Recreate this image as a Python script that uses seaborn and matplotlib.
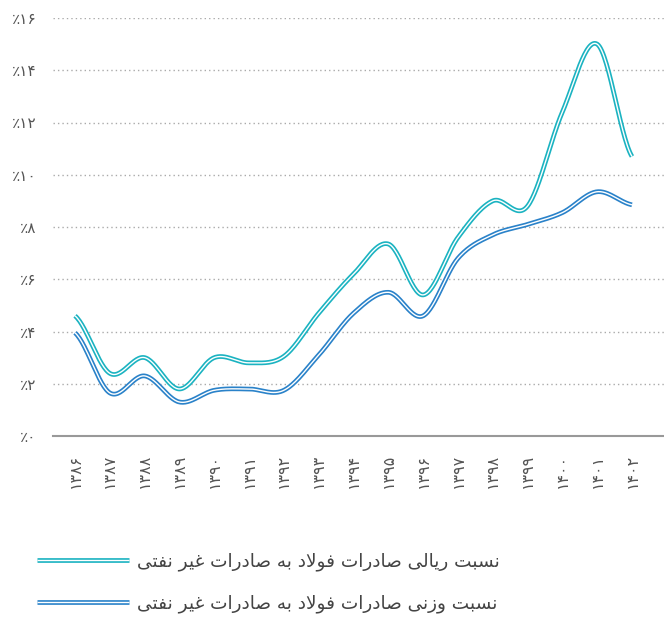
import numpy as np
import pandas as pd
import matplotlib
matplotlib.use("Agg")
import matplotlib.pyplot as plt
from matplotlib.lines import Line2D
from matplotlib.legend_handler import HandlerTuple
import seaborn as sns

# data (percent)
years = [1386, 1387, 1388, 1389, 1390, 1391, 1392, 1393, 1394,
         1395, 1396, 1397, 1398, 1399, 1400, 1401, 1402]
rial_share = [4.6, 2.4, 3.0, 1.8, 3.0, 2.8, 3.05, 4.7, 6.2,
              7.35, 5.4, 7.6, 9.0, 8.8, 12.4, 15.0, 10.7]
weight_share = [3.95, 1.65, 2.3, 1.3, 1.75, 1.8, 1.75, 3.1, 4.7,
                5.5, 4.6, 6.8, 7.7, 8.1, 8.55, 9.35, 8.85]
yticks = [0, 2, 4, 6, 8, 10, 12, 14, 16]
series_names = ["نسبت ریالی صادرات فولاد به صادرات غیر نفتی",
                "نسبت وزنی صادرات فولاد به صادرات غیر نفتی"]
colors = ["#1bb3c1", "#2a82c9"]

FA_DIGITS = str.maketrans("0123456789", "۰۱۲۳۴۵۶۷۸۹")

# presentation forms: isolated, final, initial, medial
FORMS = {
    'ا': ('\uFE8D', '\uFE8E', None, None),
    'ب': ('\uFE8F', '\uFE90', '\uFE91', '\uFE92'),
    'ت': ('\uFE95', '\uFE96', '\uFE97', '\uFE98'),
    'د': ('\uFEA9', '\uFEAA', None, None),
    'ر': ('\uFEAD', '\uFEAE', None, None),
    'ز': ('\uFEAF', '\uFEB0', None, None),
    'س': ('\uFEB1', '\uFEB2', '\uFEB3', '\uFEB4'),
    'ص': ('\uFEB9', '\uFEBA', '\uFEBB', '\uFEBC'),
    'غ': ('\uFECD', '\uFECE', '\uFECF', '\uFED0'),
    'ف': ('\uFED1', '\uFED2', '\uFED3', '\uFED4'),
    'ل': ('\uFEDD', '\uFEDE', '\uFEDF', '\uFEE0'),
    'ن': ('\uFEE5', '\uFEE6', '\uFEE7', '\uFEE8'),
    'ه': ('\uFEE9', '\uFEEA', '\uFEEB', '\uFEEC'),
    'و': ('\uFEED', '\uFEEE', None, None),
    'ی': ('\uFEEF', '\uFEF0', '\uFEF3', '\uFEF4'),
    'ﻻ': ('\uFEFB', '\uFEFC', None, None),
}


def shape_fa(text):
    # matplotlib has no arabic shaping, so join letters by hand and flip to visual order
    chars = list(text.replace('لا', 'ﻻ'))
    out = []
    for i, c in enumerate(chars):
        if c not in FORMS:
            out.append(c)
            continue
        prev = chars[i - 1] if i > 0 else None
        nxt = chars[i + 1] if i + 1 < len(chars) else None
        join_prev = prev in FORMS and FORMS[prev][2] is not None
        join_next = FORMS[c][2] is not None and nxt in FORMS
        iso, fin, ini, med = FORMS[c]
        if join_prev and join_next:
            out.append(med)
        elif join_prev:
            out.append(fin)
        elif join_next:
            out.append(ini)
        else:
            out.append(iso)
    return ''.join(out)[::-1]


def catmull_rom(vals, steps=30):
    p = np.asarray(vals, float)
    p = np.concatenate([[p[0]], p, [p[-1]]])
    xs, ys = [], []
    t = np.linspace(0, 1, steps, endpoint=False)
    for i in range(1, len(p) - 2):
        p0, p1, p2, p3 = p[i - 1:i + 3]
        y = 0.5 * (2 * p1 + (p2 - p0) * t + (2 * p0 - 5 * p1 + 4 * p2 - p3) * t ** 2
                   + (-p0 + 3 * p1 - 3 * p2 + p3) * t ** 3)
        xs.append(i - 1 + t)
        ys.append(y)
    xs.append([len(vals) - 1])
    ys.append([vals[-1]])
    return np.concatenate(xs), np.concatenate(ys)


sns.set_theme(style="white")
plt.rcParams['font.family'] = ['DejaVu Sans']

fig = plt.figure(figsize=(6.64, 6.19), dpi=100)
ax = fig.add_axes([53 / 664, 183 / 619, 611 / 664, 418 / 619])

for vals, col in zip([rial_share, weight_share], colors):
    sx, sy = catmull_rom(vals)
    df = pd.DataFrame({'pos': sx, 'val': sy})
    sns.lineplot(data=df, x='pos', y='val', color=col, lw=3.4, sort=False,
                 estimator=None, ax=ax, solid_capstyle='butt', zorder=3)
    sns.lineplot(data=df, x='pos', y='val', color='white', lw=1.0, sort=False,
                 estimator=None, ax=ax, solid_capstyle='butt', zorder=4)

ax.set_xlim(-0.632, 16.92)
ax.set_ylim(0, 16)
ax.set_xticks(range(len(years)))
ax.set_xticklabels([str(y).translate(FA_DIGITS) for y in years], rotation=90,
                   fontsize=11.5, color='#555555')
ax.set_yticks(yticks)
ax.set_yticklabels(['٪' + str(v).translate(FA_DIGITS) for v in yticks],
                   fontsize=11, color='#555555')
ax.tick_params(axis='x', length=0, pad=13)
ax.tick_params(axis='y', length=0, pad=12)
ax.set_xlabel('')
ax.set_ylabel('')

ax.yaxis.grid(True, linestyle=(0, (1, 2.2)), color='#aaaaaa', lw=1)
ax.xaxis.grid(False)
for s in ['top', 'right', 'left']:
    ax.spines[s].set_visible(False)
ax.spines['bottom'].set_color('#999999')
ax.spines['bottom'].set_linewidth(1.5)
ax.spines['bottom'].set_zorder(2.5)

handles = [(Line2D([], [], color=c, lw=3.4, solid_capstyle='butt'),
            Line2D([], [], color='white', lw=1.0, solid_capstyle='butt'))
           for c in colors]
fig.legend(handles, [shape_fa(n) for n in series_names],
           handler_map={tuple: HandlerTuple(ndivide=1)},
           loc='upper left', bbox_to_anchor=(37 / 664, 1 - 552 / 619),
           frameon=False, fontsize=13.3, handlelength=5.0, handletextpad=0.4,
           labelspacing=1.3, borderpad=0, borderaxespad=0, labelcolor='#444444')

fig.savefig('out.png', dpi=100)
